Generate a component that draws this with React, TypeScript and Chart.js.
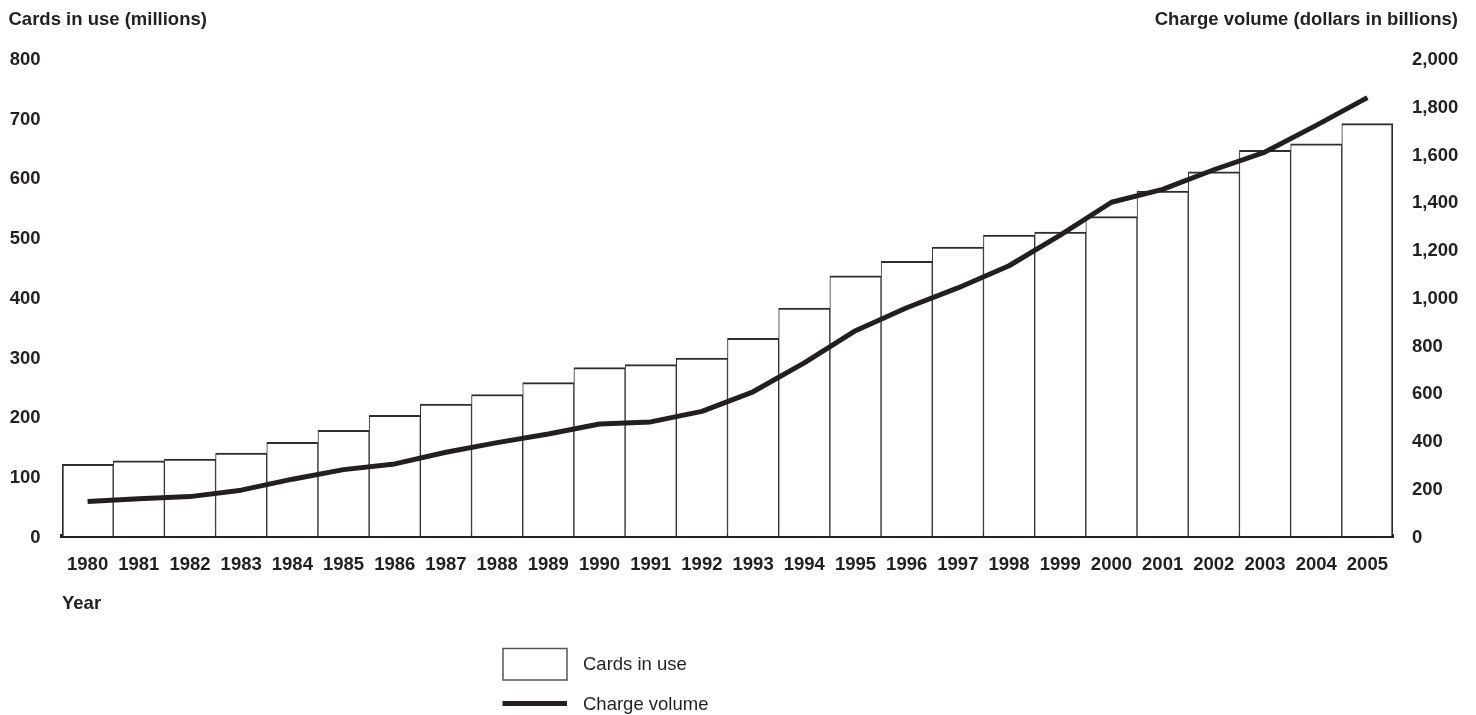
import React, { useEffect, useRef } from "react";
import { Chart, registerables } from "chart.js";

Chart.register(...registerables);

const years: string[] = [
  "1980", "1981", "1982", "1983", "1984", "1985", "1986", "1987", "1988", "1989",
  "1990", "1991", "1992", "1993", "1994", "1995", "1996", "1997", "1998", "1999",
  "2000", "2001", "2002", "2003", "2004", "2005",
];

// Cards in use (millions)
const cardsInUse: number[] = [
  120, 126, 129, 139, 157, 177, 202, 221, 237, 257,
  282, 287, 298, 331, 382, 436, 460, 484, 504, 509,
  535, 578, 610, 646, 657, 691,
];

// Charge volume (dollars in billions)
const chargeVolume: number[] = [
  144, 156, 165, 192, 238, 278, 302, 351, 391, 427,
  469, 478, 522, 604, 725, 860, 956, 1039, 1132, 1260,
  1398, 1452, 1534, 1608, 1720, 1836,
];

const leftTitle = "Cards in use (millions)";
const rightTitle = "Charge volume (dollars in billions)";
const xTitle = "Year";
const legendLabels = ["Cards in use", "Charge volume"];

const INK = "#231f20";
const BAR_EDGE = "#2e2e2e";
const FONT_FAMILY = "'Liberation Sans', Arial, Helvetica, sans-serif";
const FONT_SIZE = 18.5;

const textPlugin = {
  id: "textPlugin",
  afterDraw(chart: any) {
    const ctx = chart.ctx as CanvasRenderingContext2D;
    ctx.save();
    ctx.fillStyle = INK;
    ctx.textBaseline = "alphabetic";
    ctx.font = `bold ${FONT_SIZE}px ${FONT_FAMILY}`;
    ctx.textAlign = "left";
    ctx.fillText(leftTitle, 8.5, 24.5);
    ctx.textAlign = "right";
    ctx.fillText(rightTitle, 1458, 24.5);
    ctx.textAlign = "left";
    ctx.fillText(xTitle, 62, 609);

    // legend
    ctx.strokeStyle = "#555555";
    ctx.lineWidth = 1.5;
    ctx.strokeRect(503, 648.5, 64, 31.5);
    ctx.fillStyle = INK;
    ctx.fillRect(502.5, 701, 64.5, 5);
    ctx.font = `${FONT_SIZE}px ${FONT_FAMILY}`;
    ctx.fillText(legendLabels[0], 583, 670);
    ctx.fillText(legendLabels[1], 583, 710);
    ctx.restore();
  },
};

export default function App() {
  const canvasRef = useRef<HTMLCanvasElement | null>(null);

  useEffect(() => {
    if (!canvasRef.current) return;
    const tickFont = { family: FONT_FAMILY, size: FONT_SIZE, weight: "bold" as const };
    const chart = new Chart(canvasRef.current, {
      type: "bar",
      data: {
        labels: years,
        datasets: [
          {
            type: "line",
            label: legendLabels[1],
            data: chargeVolume,
            yAxisID: "y1",
            borderColor: INK,
            backgroundColor: INK,
            borderWidth: 5,
            pointRadius: 0,
            tension: 0,
            borderJoinStyle: "round",
            borderCapStyle: "butt",
            order: 0,
          } as any,
          {
            type: "bar",
            label: legendLabels[0],
            data: cardsInUse,
            yAxisID: "y",
            backgroundColor: "#ffffff",
            borderColor: BAR_EDGE,
            borderWidth: (c: any) => ({
              top: 2,
              bottom: 0,
              left: c.dataIndex === 0 ? 2 : 1,
              right: c.dataIndex === years.length - 1 ? 2 : 1,
            }),
            borderSkipped: false,
            barPercentage: 1,
            categoryPercentage: 1,
            order: 1,
          } as any,
        ],
      },
      options: {
        responsive: false,
        animation: false,
        devicePixelRatio: 1,
        layout: { padding: { left: 9, top: 58.5, right: 0, bottom: 0 } },
        plugins: {
          legend: { display: false },
          tooltip: { enabled: false },
          title: { display: false },
        },
        scales: {
          x: {
            position: "bottom",
            offset: true,
            grid: { display: false, drawTicks: false },
            border: { display: true, color: INK, width: 4 },
            ticks: { color: INK, font: tickFont, padding: 17.5, maxRotation: 0, autoSkip: false },
            afterFit: (s: any) => {
              s.height = 179;
            },
          },
          y: {
            position: "left",
            min: 0,
            max: 800,
            grid: { display: false, drawTicks: false },
            border: { display: false },
            ticks: {
              stepSize: 100,
              color: INK,
              font: tickFont,
              crossAlign: "near",
              padding: 21.5,
              labelOffset: 1.5,
            },
            afterFit: (s: any) => {
              s.width = 53;
            },
          },
          y1: {
            position: "right",
            min: 0,
            max: 2000,
            grid: { display: false, drawTicks: false },
            border: { display: false },
            ticks: {
              stepSize: 200,
              color: INK,
              font: tickFont,
              padding: 19,
              labelOffset: 1.5,
              callback: (v: any) => Number(v).toLocaleString("en-US"),
            },
            afterFit: (s: any) => {
              s.width = 83;
            },
          },
        },
      } as any,
      plugins: [textPlugin],
    });
    return () => chart.destroy();
  }, []);

  return (
    <div style={{ position: "absolute", left: 0, top: 0, width: 1476, height: 715, background: "#ffffff" }}>
      <canvas ref={canvasRef} width={1476} height={715} style={{ display: "block", width: 1476, height: 715 }} />
    </div>
  );
}
